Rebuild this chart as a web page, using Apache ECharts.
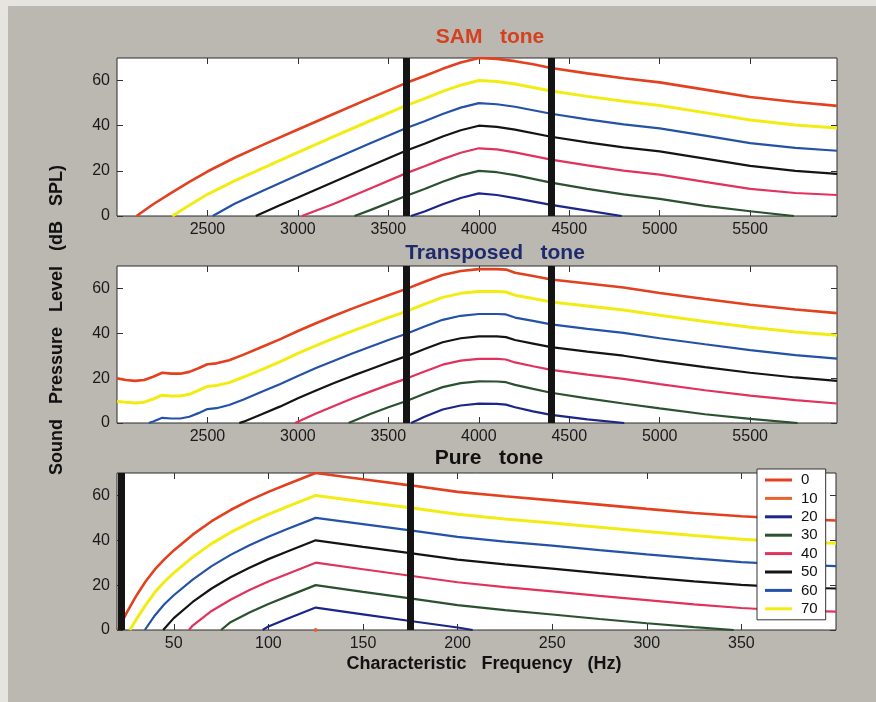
<!DOCTYPE html>
<html>
<head>
<meta charset="utf-8">
<script src="https://cdn.jsdelivr.net/npm/echarts@6/dist/echarts.min.js"></script>
<style>
html,body{margin:0;padding:0;background:#bab8b1;}
#c{width:876px;height:702px;}
</style>
</head>
<body>
<div id="c"></div>
<script>
// ---------- DATA ----------
const legendLabels = ['0','10','20','30','40','50','60','70'];
const legendColors = ['#e2401e','#e8642e','#1c2688','#2b5230','#e0325c','#141414','#2452a6','#f3ec14'];

const samTicks = [2500,3000,3500,4000,4500,5000,5500];
const pureTicks = [50,100,150,200,250,300,350];
const yTicks = [0,20,40,60];

const samBars = [3600, 4400];
const transBars = [3600, 4400];
const pureBars = [22.5, 175];

// SAM tone curves (peak level)
const sam70 = [[2108,0],[2200,5.2],[2300,10.2],[2400,15.1],[2500,19.7],[2650,25.8],[2800,31.3],[3000,38.3],[3200,45.3],[3400,52.2],[3600,59],[3700,62],[3800,65.2],[3900,68],[4000,70],[4100,69.6],[4200,68.6],[4300,67.2],[4400,65.6],[4600,63.2],[4800,61],[5000,59.2],[5250,56],[5500,52.7],[5750,50.5],[5980,48.8]];
const sam60 = [[2306,0],[2400,4.8],[2500,9.6],[2650,15.6],[2800,21],[3000,28.2],[3200,35.3],[3400,42.2],[3600,49],[3700,52],[3800,55.2],[3900,58],[4000,60],[4100,59.6],[4200,58.5],[4400,55.4],[4600,53],[4800,50.8],[5000,49],[5250,45.8],[5500,42.5],[5750,40.3],[5980,39]];
const sam50 = [[2529,0],[2650,5.4],[2800,11],[3000,18.2],[3200,25.3],[3400,32.2],[3600,39],[3700,42],[3800,45.2],[3900,48],[4000,50],[4100,49.5],[4200,48.4],[4400,45.3],[4600,42.8],[4800,40.6],[5000,38.8],[5250,35.6],[5500,32.3],[5750,30.2],[5980,28.9]];
const sam40 = [[2767,0],[2900,4.8],[3000,8.2],[3200,15.2],[3400,22.2],[3600,29],[3700,32],[3800,35.2],[3900,38],[4000,40],[4100,39.5],[4200,38.3],[4400,35.1],[4600,32.6],[4800,30.4],[5000,28.6],[5250,25.4],[5500,22.2],[5750,20],[5980,18.7]];
const sam30 = [[3022,0],[3200,5.4],[3400,12.2],[3600,19],[3700,22],[3800,25.2],[3900,28],[4000,30],[4100,29.5],[4200,28.2],[4400,25],[4600,22.4],[4800,20.1],[5000,18.3],[5250,15.1],[5500,12],[5750,10.2],[5980,9.3]];
const sam20 = [[3313,0],[3400,2.6],[3600,9],[3700,12],[3800,15.2],[3900,18],[4000,20],[4100,19.4],[4200,18.1],[4400,14.8],[4600,12],[4800,9.6],[5000,7.6],[5250,4.5],[5500,2.1],[5742,0]];
const sam10 = [[3625,0],[3700,2],[3800,5.2],[3900,8],[4000,10],[4100,9.3],[4200,7.9],[4400,4.9],[4600,2.4],[4790,0]];

// Transposed tone curves
const trans70 = [[2000,19.9],[2050,19.2],[2100,18.8],[2150,19.2],[2200,20.6],[2250,22.4],[2300,22],[2350,22],[2400,22.8],[2450,24.4],[2500,26.2],[2550,26.6],[2620,28],[2700,30.5],[2800,33.9],[2900,37.3],[3000,41],[3100,44.5],[3200,47.8],[3300,51],[3400,54],[3500,57],[3600,59.8],[3700,63],[3800,66],[3900,67.8],[4000,68.6],[4100,68.6],[4150,68.4],[4200,67],[4300,65.5],[4400,64],[4600,62.2],[4800,60.4],[5000,58],[5250,55.3],[5500,52.7],[5750,50.6],[5980,49]];
const trans60 = [[2000,9.7],[2050,9.2],[2100,8.9],[2150,9.3],[2200,10.7],[2250,12.4],[2300,12],[2350,12],[2400,12.8],[2450,14.5],[2500,16.3],[2550,16.7],[2620,18],[2700,20.5],[2800,23.8],[2900,27.3],[3000,31],[3100,34.5],[3200,37.8],[3300,41],[3400,44],[3500,47],[3600,49.8],[3700,53],[3800,56],[3900,57.8],[4000,58.6],[4100,58.6],[4150,58.4],[4200,57],[4300,55.5],[4400,54],[4600,52.2],[4800,50.4],[5000,48],[5250,45.3],[5500,42.7],[5750,40.6],[5980,39.1]];
const trans50 = [[2176,0],[2200,0.7],[2250,2.3],[2300,2],[2350,2],[2400,2.8],[2450,4.4],[2500,6.2],[2550,6.6],[2620,8],[2700,10.5],[2800,13.9],[2900,17.3],[3000,21],[3100,24.5],[3200,27.8],[3300,31],[3400,34],[3500,37],[3600,39.8],[3700,43],[3800,46],[3900,47.8],[4000,48.6],[4100,48.6],[4150,48.4],[4200,47],[4300,45.5],[4400,44],[4600,42],[4800,40.2],[5000,37.8],[5250,35.1],[5500,32.5],[5750,30.3],[5980,28.7]];
const trans40 = [[2676,0],[2700,0.6],[2800,3.9],[2900,7.3],[3000,11],[3100,14.5],[3200,17.8],[3300,21],[3400,24],[3500,27],[3600,29.8],[3700,33],[3800,36],[3900,37.8],[4000,38.6],[4100,38.6],[4150,38.3],[4200,37],[4300,35.4],[4400,33.8],[4600,31.8],[4800,30],[5000,27.6],[5250,24.9],[5500,22.4],[5750,20.3],[5980,18.8]];
const trans30 = [[2984,0],[3000,0.6],[3100,4.2],[3200,7.6],[3300,10.9],[3400,14],[3500,17],[3600,19.8],[3700,23],[3800,26],[3900,27.8],[4000,28.6],[4100,28.6],[4150,28.3],[4200,27],[4300,25.3],[4400,23.7],[4600,21.6],[4800,19.7],[5000,17.3],[5250,14.6],[5500,12.2],[5750,10.2],[5980,8.7]];
const trans20 = [[3280,0],[3300,0.7],[3400,4],[3500,7],[3600,9.8],[3700,13],[3800,16],[3900,17.8],[4000,18.6],[4100,18.5],[4150,18.2],[4200,17],[4300,15.2],[4400,13.5],[4600,11],[4800,8.7],[5000,6.5],[5250,3.9],[5500,1.8],[5762,0]];
const trans10 = [[3626,0],[3700,2.8],[3800,6],[3900,7.8],[4000,8.6],[4100,8.5],[4150,8.2],[4200,7],[4300,5.2],[4400,3.6],[4600,1.6],[4804,0]];

// Pure tone curves
const pure70 = [[20.5,0],[23,4.2],[25,7.5],[27,10.5],[30,15],[35,21.5],[40,27],[45,31.5],[50,35.5],[60,42.5],[70,48.5],[80,53.5],[90,57.8],[100,61.6],[110,65],[125,70],[150,67.2],[175,64.5],[200,61.6],[225,59.6],[250,57.8],[275,55.9],[300,54],[325,52.2],[350,50.7],[375,49.6],[400,48.8]];
const pure60 = [[26.8,0],[30,4.5],[35,11],[40,16.8],[45,21.5],[50,25.5],[60,32.5],[70,38.5],[80,43.5],[90,47.8],[100,51.6],[110,55],[125,60],[150,57.2],[175,54.5],[200,51.6],[225,49.5],[250,47.7],[275,45.8],[300,43.9],[325,42.1],[350,40.5],[375,39.4],[400,38.7]];
const pure50 = [[34.7,0],[40,6.5],[45,11.5],[50,15.5],[60,22.5],[70,28.5],[80,33.5],[90,37.8],[100,41.6],[110,45],[125,50],[150,47.2],[175,44.4],[200,41.5],[225,39.4],[250,37.6],[275,35.6],[300,33.7],[325,31.9],[350,30.3],[375,29.2],[400,28.5]];
const pure40 = [[44.4,0],[50,5.3],[60,12.5],[70,18.5],[80,23.5],[90,27.8],[100,31.6],[110,35],[125,40],[150,37.1],[175,34.3],[200,31.4],[225,29.3],[250,27.4],[275,25.4],[300,23.5],[325,21.7],[350,20.1],[375,19],[400,18.5]];
const pure30 = [[58,0],[60,2],[70,8.5],[80,13.5],[90,17.8],[100,21.6],[110,25],[125,30],[150,27.1],[175,24.2],[200,21.3],[225,19.1],[250,17.2],[275,15.2],[300,13.3],[325,11.4],[350,9.8],[375,8.7],[400,8.2]];
const pure20 = [[75,0],[80,3.5],[90,7.8],[100,11.6],[110,15],[125,20],[150,17],[175,14.1],[200,11.1],[225,8.9],[250,6.9],[275,4.9],[300,3],[325,1.3],[346,0]];
const pure10 = [[97,0],[100,1.6],[110,5],[125,10],[150,7],[175,4],[200,1.1],[208,0]];
const pure0 = [[125,0]];

// ---------- CHART ----------
const FONT = '"Liberation Sans", Arial, Helvetica, sans-serif';
const chart = echarts.init(document.getElementById('c'), null, {renderer:'canvas'});

const grids = [
  {left:117, top:58, width:720, height:158},
  {left:117, top:266, width:720, height:157},
  {left:117, top:473, width:719, height:157}
];
const xRanges = [[2000,5980],[2000,5980],[20,400]];
const xTickSets = [samTicks, samTicks, pureTicks];
const plain = v => String(v);

const xAxes = [], yAxes = [];
grids.forEach((g,i)=>{
  xAxes.push({gridIndex:i, type:'value', position:'bottom', min:xRanges[i][0], max:xRanges[i][1],
    axisLine:{show:false, onZero:false}, splitLine:{show:false},
    axisTick:{show:true, inside:true, length:6, customValues:xTickSets[i], lineStyle:{color:'#333'}},
    axisLabel:{show:true, customValues:xTickSets[i], formatter:plain, margin:6, fontSize:16, color:'#1a1a1a', fontFamily:FONT}});
  xAxes.push({gridIndex:i, type:'value', position:'top', min:xRanges[i][0], max:xRanges[i][1],
    axisLine:{show:false, onZero:false}, splitLine:{show:false},
    axisTick:{show:true, inside:true, length:6, customValues:xTickSets[i], lineStyle:{color:'#333'}},
    axisLabel:{show:false}});
  yAxes.push({gridIndex:i, type:'value', position:'left', min:0, max:70,
    axisLine:{show:false, onZero:false}, splitLine:{show:false},
    axisTick:{show:true, inside:true, length:6, customValues:yTicks, lineStyle:{color:'#333'}},
    axisLabel:{show:true, customValues:yTicks, formatter:plain, margin:7, fontSize:16, color:'#1a1a1a', fontFamily:FONT}});
  yAxes.push({gridIndex:i, type:'value', position:'right', min:0, max:70,
    axisLine:{show:false, onZero:false}, splitLine:{show:false},
    axisTick:{show:true, inside:true, length:6, customValues:yTicks, lineStyle:{color:'#333'}},
    axisLabel:{show:false}});
});

const colorOf = l => legendColors[legendLabels.indexOf(l)];
const widthOf = l => (l==='70' ? 3 : (l==='0' ? 2.6 : 2.2));

const panels = [
  [['0',sam70],['70',sam60],['60',sam50],['50',sam40],['40',sam30],['30',sam20],['20',sam10]],
  [['0',trans70],['70',trans60],['60',trans50],['50',trans40],['40',trans30],['30',trans20],['20',trans10]],
  [['0',pure70],['70',pure60],['60',pure50],['50',pure40],['40',pure30],['30',pure20],['20',pure10],['10',pure0]]
];
const barSets = [samBars, transBars, pureBars];

const series = [];
panels.forEach((list,i)=>{
  list.forEach(([label,data])=>{
    const single = data.length === 1;
    series.push({
      type:'line', name:label, xAxisIndex:i*2, yAxisIndex:i*2, data:data,
      showSymbol:single, symbol:'circle', symbolSize:4, clip:true,
      itemStyle:{color:colorOf(label)},
      lineStyle:{color:colorOf(label), width:widthOf(label)},
      emphasis:{disabled:true}, z:2
    });
  });
  series.push({
    type:'line', name:'bars'+i, xAxisIndex:i*2, yAxisIndex:i*2, data:[], z:5,
    markLine:{silent:true, symbol:['none','none'], animation:false,
      label:{show:false}, emphasis:{disabled:true},
      lineStyle:{color:'#141414', width:7, type:'solid'},
      data:barSets[i].map(v=>({xAxis:v}))}
  });
});

const option = {
  animation:false,
  backgroundColor:'#bab8b1',
  grid: grids.map(g=>Object.assign({show:true, backgroundColor:'#ffffff', borderColor:'#2a2a2a', borderWidth:1, containLabel:false}, g)),
  xAxis:xAxes, yAxis:yAxes,
  legend:{
    data:legendLabels, orient:'vertical', left:757, top:469,
    icon:'rect', itemWidth:27, itemHeight:3, itemGap:2.4,
    padding:[3,8,3,8], backgroundColor:'#ffffff', borderColor:'#333', borderWidth:1,
    textStyle:{fontSize:15, lineHeight:16, color:'#111', fontFamily:FONT, padding:[0,0,0,4]},
    selectedMode:false
  },
  graphic:[
    {type:'rect', z:-10, shape:{x:0,y:0,width:8,height:702}, style:{fill:'#e6e4df'}},
    {type:'rect', z:-10, shape:{x:0,y:0,width:876,height:6}, style:{fill:'#e6e4df'}},
    {type:'text', x:490, y:37, style:{text:'SAM   tone', font:'bold 21px '+FONT, fill:'#d5401f', align:'center', verticalAlign:'middle'}},
    {type:'text', x:495, y:253, style:{text:'Transposed   tone', font:'bold 21px '+FONT, fill:'#1f2a6e', align:'center', verticalAlign:'middle'}},
    {type:'text', x:489, y:458, style:{text:'Pure   tone', font:'bold 21px '+FONT, fill:'#111', align:'center', verticalAlign:'middle'}},
    {type:'text', x:484, y:664, style:{text:'Characteristic   Frequency   (Hz)', font:'bold 18px '+FONT, fill:'#111', align:'center', verticalAlign:'middle'}},
    {type:'text', x:57, y:320, rotation:Math.PI/2, style:{text:'Sound   Pressure   Level   (dB   SPL)', font:'bold 18px '+FONT, fill:'#111', align:'center', verticalAlign:'middle'}}
  ],
  series:series
};
chart.setOption(option);
</script>
</body>
</html>
